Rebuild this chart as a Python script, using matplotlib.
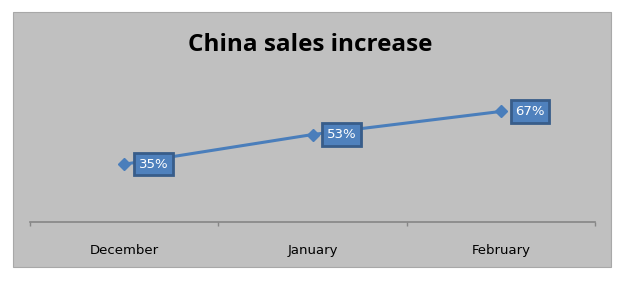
import matplotlib.pyplot as plt
from matplotlib.patches import Rectangle

months = ["December", "January", "February"]
increase = [35, 53, 67]

W, H = 619, 284
fig = plt.figure(figsize=(W / 100, H / 100), dpi=100)
fig.patch.set_facecolor("white")

# gray chart area
fig.patches.append(Rectangle((13 / W, 1 - 267 / H), 598 / W, 255 / H,
                             transform=fig.transFigure, facecolor="#C0C0C0",
                             edgecolor="#A8A8A8", linewidth=0.8, zorder=-1))

ax = fig.add_axes([30 / W, 1 - 222 / H, 565 / W, 132 / H])
ax.set_facecolor("none")
x = list(range(len(months)))
ax.plot(x, increase, color="#4A7EBB", linewidth=2.2, marker="D",
        markersize=6, markerfacecolor="#4A7EBB", markeredgecolor="#4A7EBB")

for xi, v in zip(x, increase):
    ax.annotate(f"{v}%", (xi, v), xytext=(21, 0), textcoords="offset points",
                ha="center", va="center", color="white", fontsize=9.5,
                bbox=dict(boxstyle="square,pad=0.35", fc="#4F81BD",
                          ec="#385D8A", lw=2))

ax.set_xlim(-0.5, len(months) - 0.5)
ax.set_ylim(0, 80)
for s in ["top", "right", "left"]:
    ax.spines[s].set_visible(False)
ax.spines["bottom"].set_color("#868686")
ax.spines["bottom"].set_linewidth(1.2)
ax.set_yticks([])
ax.set_xticks(x)
ax.set_xticklabels(months, fontsize=9.5)
ax.tick_params(axis="x", which="major", length=0, pad=16, colors="black")
ax.set_xticks([-0.5, 0.5, 1.5, 2.5], minor=True)
ax.tick_params(axis="x", which="minor", length=3, color="#868686", width=1)

fig.text(310 / W, 1 - 45 / H, "China sales increase", ha="center", va="center",
         fontsize=17.5, fontweight="bold", family="Open Sans")

fig.savefig("out.png", dpi=100)
